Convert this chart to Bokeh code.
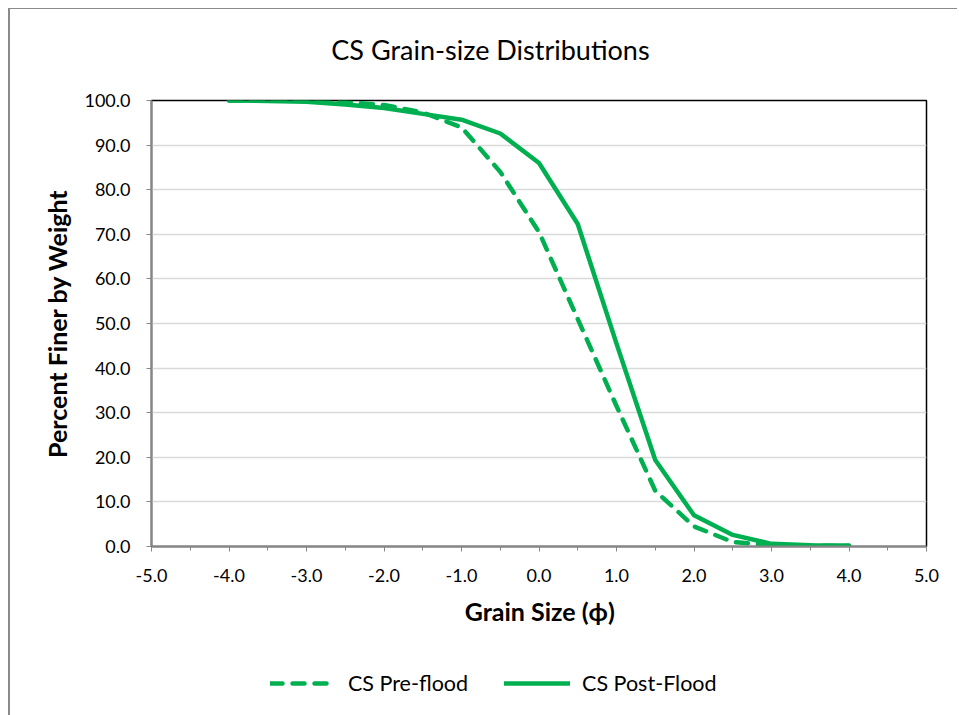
from bokeh.plotting import figure
from bokeh.layouts import column
from bokeh.models import Range1d, FixedTicker, NumeralTickFormatter, Legend, LegendItem, Label
from bokeh.embed import file_html
from bokeh.resources import INLINE

# ---- data ----
grain_size_phi = [-4.0, -3.5, -3.0, -2.5, -2.0, -1.5, -1.0, -0.5, 0.0, 0.5, 1.0, 1.5, 2.0, 2.5, 3.0, 3.5, 4.0]
pre_flood = [100.0, 100.0, 99.9, 99.6, 99.0, 97.3, 94.0, 84.0, 70.5, 51.0, 31.5, 12.5, 4.5, 1.0, 0.3, 0.2, 0.1]
post_flood = [100.0, 99.9, 99.7, 99.1, 98.3, 97.0, 95.7, 92.6, 86.0, 72.3, 45.5, 19.4, 7.0, 2.6, 0.6, 0.3, 0.2]
x_ticks = [-5, -4, -3, -2, -1, 0, 1, 2, 3, 4, 5]
x_minor_ticks = [-4.5, -3.5, -2.5, -1.5, -0.5, 0.5, 1.5, 2.5, 3.5, 4.5]
y_ticks = [0, 10, 20, 30, 40, 50, 60, 70, 80, 90, 100]
series_labels = ["CS Pre-flood", "CS Post-Flood"]
chart_title = "CS Grain-size Distributions"

GREEN = "#00B050"
FONT = "Lato"
PRE_STYLE = dict(line_color=GREEN, line_width=4.5, line_dash="12 10", line_cap="round", line_join="round")
POST_STYLE = dict(line_color=GREEN, line_width=4.5, line_cap="round", line_join="round")


def blank_strip(height):
    f = figure(width=947, height=height, output_backend="svg", toolbar_location=None,
               x_axis_type=None, y_axis_type=None, min_border=0,
               x_range=Range1d(-5, 5), y_range=Range1d(0, height))
    f.outline_line_color = None
    f.grid.visible = False
    f.background_fill_color = "white"
    f.border_fill_color = "white"
    return f


# title strip (frame aligned with the chart's plot area)
top = blank_strip(72)
top.add_layout(Label(x=-2.68, y=32, text=chart_title, text_align="left", text_baseline="middle",
                     text_font=FONT, text_font_size="27px", text_color="#000000"))

p = figure(width=947, height=559, output_backend="svg", toolbar_location=None,
           x_range=Range1d(-5, 5), y_range=Range1d(0, 100),
           min_border_left=141, min_border_right=31, min_border_top=19, min_border_bottom=94)

p.outline_line_color = "#000000"
p.outline_line_width = 1.5
p.background_fill_color = "white"
p.border_fill_color = "white"

p.xgrid.visible = False
p.ygrid.grid_line_color = "#D9D9D9"
p.ygrid.grid_line_width = 1.5

for ax in (p.xaxis[0], p.yaxis[0]):
    ax.axis_line_color = "#868686"
    ax.axis_line_width = 2
    ax.major_tick_line_color = "#868686"
    ax.minor_tick_line_color = "#868686"
    ax.major_tick_in = 0
    ax.major_tick_out = 5
    ax.major_label_text_font = FONT
    ax.major_label_text_font_size = "18px"
    ax.major_label_text_color = "#000000"
    ax.axis_label_text_font = FONT
    ax.axis_label_text_font_size = "25px"
    ax.axis_label_text_font_style = "bold"
    ax.axis_label_text_color = "#000000"
    ax.formatter = NumeralTickFormatter(format="0.0")

p.xaxis.ticker = FixedTicker(ticks=x_ticks, minor_ticks=x_minor_ticks)
p.xaxis.minor_tick_in = 0
p.xaxis.minor_tick_out = 4
p.xaxis.major_label_standoff = 17
p.xaxis.axis_label = "Grain Size (ϕ)"
p.xaxis.axis_label_standoff = 11

p.yaxis.ticker = FixedTicker(ticks=y_ticks)
p.yaxis.minor_tick_line_color = None
p.yaxis.major_label_standoff = 16
p.yaxis.axis_label = "Percent Finer by Weight"
p.yaxis.axis_label_standoff = 9

p.line(grain_size_phi, pre_flood, **PRE_STYLE)
p.line(grain_size_phi, post_flood, **POST_STYLE)

# legend strip below the chart (same series, hidden, only used for the legend keys)
leg = blank_strip(75)
lr_pre = leg.line(grain_size_phi, pre_flood, visible=False, **PRE_STYLE)
lr_post = leg.line(grain_size_phi, post_flood, visible=False, **POST_STYLE)
legend = Legend(items=[LegendItem(label=series_labels[0], renderers=[lr_pre]),
                       LegendItem(label=series_labels[1], renderers=[lr_post])],
                location=(119, 19), orientation="horizontal",
                glyph_width=66, glyph_height=20, label_standoff=12, spacing=36,
                padding=0, margin=0, border_line_color=None,
                background_fill_alpha=0, inactive_fill_alpha=0,
                label_text_font=FONT, label_text_font_size="21.5px", label_text_color="#000000")
leg.add_layout(legend)

layout = column(top, p, leg, spacing=0)
layout.styles = {"margin-left": "8px", "margin-top": "8px",
                 "border-left": "2px solid #8a8a8a", "border-top": "1px solid #8a8a8a"}

open("out.html", "w").write(file_html(layout, INLINE))
